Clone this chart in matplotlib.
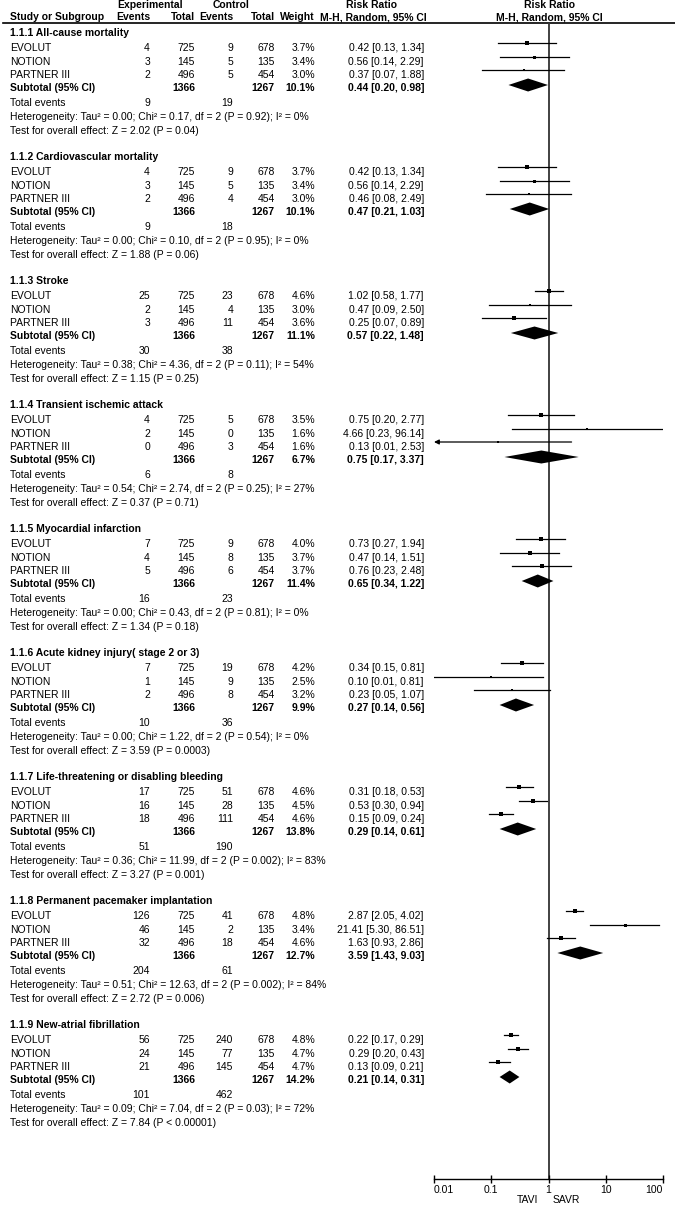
import numpy as np
import matplotlib.pyplot as plt

plt.rcParams['font.family'] = ['Liberation Sans', 'DejaVu Sans']

# %% data
groups = ["1.1.1 All-cause mortality", "1.1.2 Cardiovascular mortality", "1.1.3 Stroke",
          "1.1.4 Transient ischemic attack", "1.1.5 Myocardial infarction",
          "1.1.6 Acute kidney injury( stage 2 or 3)", "1.1.7 Life-threatening or disabling bleeding",
          "1.1.8 Permanent pacemaker implantation", "1.1.9 New-atrial fibrillation"]
studies = ["EVOLUT", "NOTION", "PARTNER III"]
exp_total = [725, 145, 496]
ctl_total = [678, 135, 454]
exp_events = [[4, 3, 2], [4, 3, 2], [25, 2, 3], [4, 2, 0], [7, 4, 5], [7, 1, 2],
              [17, 16, 18], [126, 46, 32], [56, 24, 21]]
ctl_events = [[9, 5, 5], [9, 5, 4], [23, 4, 11], [5, 0, 3], [9, 8, 6], [19, 9, 8],
              [51, 28, 111], [41, 2, 18], [240, 77, 145]]
weights = [[3.7, 3.4, 3.0], [3.7, 3.4, 3.0], [4.6, 3.0, 3.6], [3.5, 1.6, 1.6], [4.0, 3.7, 3.7],
           [4.2, 2.5, 3.2], [4.6, 4.5, 4.6], [4.8, 3.4, 4.6], [4.8, 4.7, 4.7]]
rr = [[0.42, 0.56, 0.37], [0.42, 0.56, 0.46], [1.02, 0.47, 0.25], [0.75, 4.66, 0.13],
      [0.73, 0.47, 0.76], [0.34, 0.10, 0.23], [0.31, 0.53, 0.15], [2.87, 21.41, 1.63],
      [0.22, 0.29, 0.13]]
rr_lo = [[0.13, 0.14, 0.07], [0.13, 0.14, 0.08], [0.58, 0.09, 0.07], [0.20, 0.23, 0.007],
         [0.27, 0.14, 0.23], [0.15, 0.01, 0.05], [0.18, 0.30, 0.09], [2.05, 5.30, 0.93],
         [0.17, 0.20, 0.09]]
rr_hi = [[1.34, 2.29, 1.88], [1.34, 2.29, 2.49], [1.77, 2.50, 0.89], [2.77, 96.14, 2.53],
         [1.94, 1.51, 2.48], [0.81, 0.81, 1.07], [0.53, 0.94, 0.24], [4.02, 86.51, 2.86],
         [0.29, 0.43, 0.21]]
sub_rr = [0.44, 0.47, 0.57, 0.75, 0.65, 0.27, 0.29, 3.59, 0.21]
sub_lo = [0.20, 0.21, 0.22, 0.17, 0.34, 0.14, 0.14, 1.43, 0.14]
sub_hi = [0.98, 1.03, 1.48, 3.37, 1.22, 0.56, 0.61, 9.03, 0.31]
sub_w = [10.1, 10.1, 11.1, 6.7, 11.4, 9.9, 13.8, 12.7, 14.2]
tot_exp = [9, 9, 30, 6, 16, 10, 51, 204, 101]
tot_ctl = [19, 18, 38, 8, 23, 36, 190, 61, 462]
tau2 = [0.00, 0.00, 0.38, 0.54, 0.00, 0.00, 0.36, 0.51, 0.09]
chi2 = [0.17, 0.10, 4.36, 2.74, 0.43, 1.22, 11.99, 12.63, 7.04]
het_p = ["0.92", "0.95", "0.11", "0.25", "0.81", "0.54", "0.002", "0.002", "0.03"]
i2 = [0, 0, 54, 27, 0, 0, 83, 84, 72]
z_val = [2.02, 1.88, 1.15, 0.37, 1.34, 3.59, 3.27, 2.72, 7.84]
z_p = ["= 0.04", "= 0.06", "= 0.25", "= 0.71", "= 0.18", "= 0.0003", "= 0.001", "= 0.006",
       "< 0.00001"]
ticks = [0.01, 0.1, 1, 10, 100]
tick_labels = ["0.01", "0.1", "1", "10", "100"]

# %% layout (pixels)
W, H = 675, 1208
fs = 7.45
x_name, x_ee, x_et, x_ce, x_ct, x_w, x_rr = 10, 150, 195, 233, 275, 315, 424
fx0, fx1, fy0, fy1 = 434, 663, 23, 1179
g0, gstep = 33, 124
offs = [15, 29, 42, 55, 70, 84, 98]

fig = plt.figure(figsize=(W / 100, H / 100), dpi=100)
ax = fig.add_axes([0, 0, 1, 1])
ax.set_xlim(0, W)
ax.set_ylim(H, 0)
ax.axis('off')

fa = fig.add_axes([fx0 / W, (H - fy1) / H, (fx1 - fx0) / W, (fy1 - fy0) / H])
fa.set_xscale('log')
fa.set_xlim(0.01, 100)
fa.set_ylim(fy1, fy0)
fa.patch.set_alpha(0)
for s in ['top', 'left', 'right']:
    fa.spines[s].set_visible(False)
fa.spines['bottom'].set_linewidth(1.0)
fa.set_yticks([])
fa.set_xticks(ticks)
fa.set_xticklabels(tick_labels, fontsize=fs)
fa.minorticks_off()
fa.tick_params(axis='x', direction='inout', length=6, width=1, pad=1)
lbls = fa.get_xticklabels()
lbls[0].set_ha('left')
lbls[-1].set_ha('right')
fa.axvline(1, color='#333333', lw=1.3, zorder=1)

def t(x, y, s, ha='right', bold=False):
    ax.text(x, y, s, ha=ha, va='center', fontsize=fs, fontweight='bold' if bold else 'normal')

# header
t(150, 5, "Experimental", ha='center', bold=True)
t(231, 5, "Control", ha='center', bold=True)
t(371, 5, "Risk Ratio", ha='center', bold=True)
t(549, 5, "Risk Ratio", ha='center', bold=True)
t(x_name, 17, "Study or Subgroup", ha='left', bold=True)
t(x_ee, 17, "Events", bold=True)
t(x_et, 17, "Total", bold=True)
t(x_ce, 17, "Events", bold=True)
t(x_ct, 17, "Total", bold=True)
t(x_w, 17, "Weight", bold=True)
t(373, 17, "M-H, Random, 95% CI", ha='center', bold=True)
t(549, 17, "M-H, Random, 95% CI", ha='center', bold=True)
ax.plot([3, W], [fy0, fy0], color='black', lw=1.2)

for g, name in enumerate(groups):
    y = g0 + gstep * g
    t(x_name, y, name, ha='left', bold=True)
    for i, st in enumerate(studies):
        yy = y + offs[i]
        t(x_name, yy, st, ha='left')
        t(x_ee, yy, str(exp_events[g][i]))
        t(x_et, yy, str(exp_total[i]))
        t(x_ce, yy, str(ctl_events[g][i]))
        t(x_ct, yy, str(ctl_total[i]))
        t(x_w, yy, f"{weights[g][i]:.1f}%")
        t(x_rr, yy, f"{rr[g][i]:.2f} [{rr_lo[g][i]:.2f}, {rr_hi[g][i]:.2f}]")
        ym = yy - 5
        lo = rr_lo[g][i]
        if lo < 0.01:
            fa.annotate("", xy=(0.01, ym), xytext=(rr_hi[g][i], ym),
                        arrowprops=dict(arrowstyle='-|>', color='black', lw=0.9,
                                        mutation_scale=7, shrinkA=0, shrinkB=0))
        else:
            fa.plot([lo, rr_hi[g][i]], [ym, ym], color='black', lw=0.9)
        fa.plot(rr[g][i], ym, 's', color='black', ms=0.8 + 0.4 * weights[g][i], mew=0)
    ys = y + offs[3]
    t(x_name, ys, "Subtotal (95% CI)", ha='left', bold=True)
    t(x_et, ys, str(sum(exp_total)), bold=True)
    t(x_ct, ys, str(sum(ctl_total)), bold=True)
    t(x_w, ys, f"{sub_w[g]:.1f}%", bold=True)
    t(x_rr, ys, f"{sub_rr[g]:.2f} [{sub_lo[g]:.2f}, {sub_hi[g]:.2f}]", bold=True)
    yd = ys - 3
    fa.fill([sub_lo[g], sub_rr[g], sub_hi[g], sub_rr[g]], [yd, yd - 6.5, yd, yd + 6.5],
            color='black', lw=0)
    t(x_name, y + offs[4], "Total events", ha='left')
    t(x_ee, y + offs[4], str(tot_exp[g]))
    t(x_ce, y + offs[4], str(tot_ctl[g]))
    t(x_name, y + offs[5],
      f"Heterogeneity: Tau\u00b2 = {tau2[g]:.2f}; Chi\u00b2 = {chi2[g]:.2f}, df = 2 (P = {het_p[g]}); I\u00b2 = {i2[g]}%",
      ha='left')
    t(x_name, y + offs[6], f"Test for overall effect: Z = {z_val[g]:.2f} (P {z_p[g]})", ha='left')

t(538, 1200, "TAVI", ha='right')
t(553, 1200, "SAVR", ha='left')

fig.savefig('out.png', dpi=100)
